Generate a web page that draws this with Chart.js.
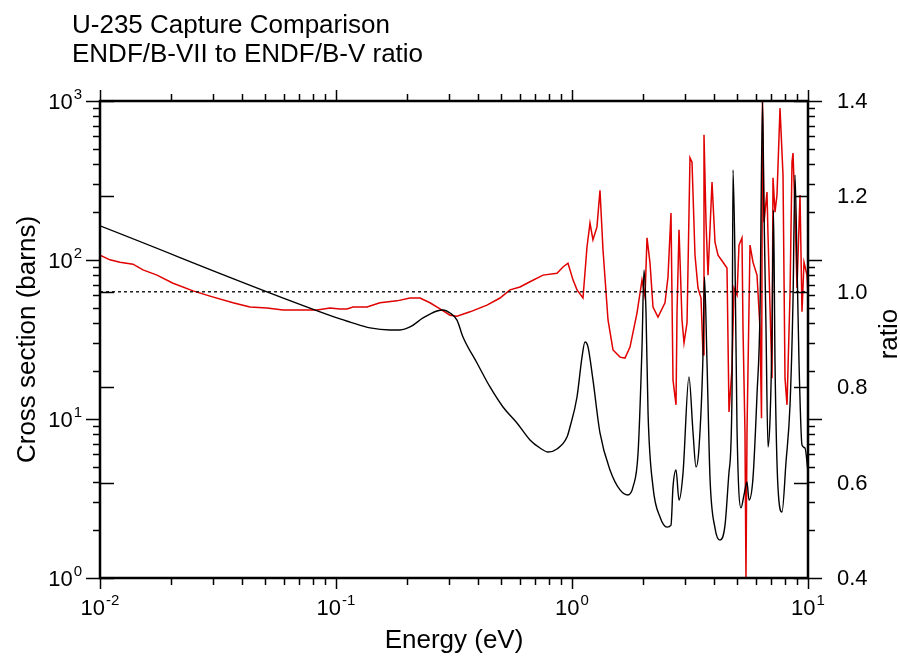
<!DOCTYPE html>
<html>
<head>
<meta charset="utf-8">
<script src="https://cdn.jsdelivr.net/npm/chart.js@4/dist/chart.umd.min.js"></script>
<style>
	html, body { margin: 0; background: #fff; }
	canvas { display: block; }
</style>
</head>
<body>
<canvas id="chart" width="900" height="658"></canvas>
<script>
// ENDF/B-VII capture cross section (barns) vs energy (eV)
const energyCs = [
	0.01, 0.104, 0.1147, 0.1394, 0.1694, 0.1867, 0.2059, 0.2337, 0.2679, 0.2841,
	0.3041, 0.3256, 0.3452, 0.3958, 0.4494, 0.5101, 0.5846, 0.6637, 0.7318, 0.7913,
	0.8638, 0.9524, 0.9807, 1.050, 1.1025, 1.135, 1.169, 1.227, 1.314, 1.449,
	1.598, 1.727, 1.814, 1.905, 1.980, 2.019, 2.059, 2.100, 2.204, 2.360,
	2.527, 2.627, 2.679, 2.759, 2.841, 2.954, 3.130, 3.256, 3.353, 3.452,
	3.590, 3.642, 3.733, 3.844, 4.036, 4.238, 4.450, 4.627, 4.764, 4.811,
	4.906, 5.003, 5.202, 5.356, 5.515, 5.623, 5.847, 6.080, 6.261, 6.415,
	6.510, 6.638, 6.769, 6.902, 7.038, 7.142, 7.248, 7.463, 7.760, 8.069,
	8.390, 8.640, 8.810, 8.983, 9.160, 9.432, 9.712, 10
];
const crossSection = [
	164, 42.6, 40.7, 37.4, 36.3, 36.3, 37.9, 43.2, 47.8, 48.5,
	46.4, 41.9, 32.8, 22.5, 15.9, 11.9, 9.44, 7.38, 6.57, 6.20,
	6.48, 7.70, 8.91, 13.75, 24.5, 30.5, 28.4, 17.6, 8.17, 4.78,
	3.58, 3.33, 3.74, 6.11, 28.4, 86.5, 46.4, 10.9, 3.74, 2.42,
	2.09, 2.15, 3.74, 4.78, 3.09, 4.57, 18.4, 8.28, 4.99, 6.57,
	25.3, 78.2, 22.8, 4.26, 2.06, 1.73, 2.15, 4.64, 14.2, 368,
	97.1, 8.78, 2.76, 3.33, 4.02, 3.09, 4.26, 14.2, 47.1, 985,
	206, 37.4, 6.67, 9.86, 33.8, 206, 22.8, 3.68, 2.60, 5.36,
	12.2, 56.0, 342, 97.1, 22.8, 6.86, 6.57, 4.64
];

// ENDF/B-VII to ENDF/B-V ratio
const energyRatio = [
	0.01, 0.01102, 0.01215, 0.0138, 0.01521, 0.01744, 0.02039, 0.02478, 0.02924, 0.03661,
	0.04321, 0.05101, 0.05963, 0.07248, 0.08311, 0.09432, 0.104, 0.1113, 0.118, 0.1353,
	0.1536, 0.1813, 0.2059, 0.227, 0.2502, 0.2759, 0.3041, 0.3256, 0.3697, 0.4363,
	0.4953, 0.5462, 0.6021, 0.6637, 0.7536, 0.8638, 0.9159, 0.9617, 1.0098, 1.050,
	1.1132, 1.1575, 1.192, 1.227, 1.276, 1.314, 1.353, 1.421, 1.492, 1.598,
	1.677, 1.761, 1.886, 1.980, 2.039, 2.079, 2.141, 2.204, 2.314, 2.478,
	2.551, 2.627, 2.679, 2.759, 2.786, 2.841, 2.925, 2.983, 3.072, 3.162,
	3.225, 3.320, 3.419, 3.521, 3.590, 3.625, 3.697, 3.770, 3.920, 4.036,
	4.156, 4.364, 4.537, 4.627, 4.764, 4.858, 5.003, 5.101, 5.252, 5.303,
	5.407, 5.460, 5.515, 5.679, 5.847, 6.080, 6.261, 6.353, 6.415, 6.510,
	6.703, 6.769, 7.038, 7.107, 7.248, 7.390, 7.610, 7.836, 7.991, 8.148,
	8.390, 8.556, 8.640, 8.810, 8.983, 9.250, 9.432, 9.617, 9.903, 10
];
const ratio = [
	1.077, 1.067, 1.062, 1.058, 1.046, 1.035, 1.018, 1.002, 0.991, 0.977,
	0.968, 0.966, 0.962, 0.962, 0.962, 0.966, 0.964, 0.964, 0.968, 0.968,
	0.977, 0.981, 0.987, 0.987, 0.977, 0.964, 0.951, 0.949, 0.958, 0.972,
	0.987, 1.004, 1.010, 1.021, 1.035, 1.039, 1.052, 1.060, 1.025, 1.004,
	0.987, 1.094, 1.144, 1.109, 1.136, 1.213, 1.088, 0.941, 0.878, 0.863,
	0.861, 0.884, 0.956, 1.025, 0.989, 1.113, 1.060, 0.968, 0.947, 0.977,
	1.031, 1.165, 0.815, 0.763, 0.956, 1.130, 0.941, 0.893, 0.935, 1.281,
	1.272, 1.077, 1.008, 0.987, 0.868, 1.329, 1.146, 1.035, 1.230, 1.104,
	1.077, 1.062, 1.050, 0.748, 0.840, 1.008, 0.993, 1.098, 1.113, 0.924,
	0.706, 0.400, 0.706, 1.098, 1.062, 1.035, 0.924, 0.735, 1.398, 1.146,
	1.209, 1.119, 0.819, 1.239, 1.167, 1.203, 1.385, 1.245, 0.819, 0.763,
	0.993, 1.272, 1.291, 1.167, 1.008, 1.203, 0.958, 1.062, 1.035, 0.993
];

const unityEnergy = [0.01, 10];
const unityRatio = [1, 1];

const xDecades = [-2, -1, 0, 1];
const yDecades = [0, 1, 2, 3];
const ratioTicks = [0.4, 0.6, 0.8, 1.0, 1.2, 1.4];

const titleLines = ['U-235 Capture Comparison', 'ENDF/B-VII to ENDF/B-V ratio'];
const xTitle = 'Energy (eV)';
const yTitle = 'Cross section (barns)';
const ratioTitle = 'ratio';

const FONT = '"Liberation Sans", Arial, Helvetica, sans-serif';

const toPoints = (xs, ys) => xs.map((x, i) => ({ x, y: ys[i] }));

const powerLabel = (ctx, exp, x, y, align) => {
	ctx.font = `22px ${FONT}`;
	const wb = ctx.measureText('10').width;
	ctx.font = `15px ${FONT}`;
	const we = ctx.measureText(exp).width;
	const left = align === 'right' ? x - wb - we - 1 : x - (wb + we + 1) / 2;
	ctx.textAlign = 'left';
	ctx.textBaseline = 'alphabetic';
	ctx.font = `22px ${FONT}`;
	ctx.fillText('10', left, y + 8);
	ctx.font = `15px ${FONT}`;
	ctx.fillText(exp, left + wb + 1, y - 2);
};

const frame = {
	id: 'frame',
	afterDraw(chart) {
		const { ctx, chartArea: a, scales } = chart;
		const sx = scales.x, sy = scales.y, sr = scales.ratio;
		const line = (x1, y1, x2, y2) => {
			ctx.beginPath();
			ctx.moveTo(x1, y1);
			ctx.lineTo(x2, y2);
			ctx.stroke();
		};
		ctx.save();
		ctx.strokeStyle = '#000';
		ctx.fillStyle = '#000';
		ctx.lineWidth = 1.5;

		// log ticks, outside, top and bottom
		xDecades.forEach(d => {
			for (let m = 1; m <= 9; m++) {
				const v = m * Math.pow(10, d);
				if (v > sx.max * 1.0001) break;
				const px = Math.round(sx.getPixelForValue(v)) + 0.5;
				const len = m === 1 ? 11 : 7;
				line(px, a.bottom, px, a.bottom + len);
				line(px, a.top, px, a.top - len);
			}
		});
		// log ticks, outside, left and right
		yDecades.forEach(d => {
			for (let m = 1; m <= 9; m++) {
				const v = m * Math.pow(10, d);
				if (v > sy.max * 1.0001) break;
				const py = Math.round(sy.getPixelForValue(v)) + 0.5;
				const len = m === 1 ? 14 : 7;
				line(a.left - len, py, a.left, py);
				line(a.right, py, a.right + len, py);
			}
		});
		// ratio ticks, inside
		ratioTicks.forEach(v => {
			const py = Math.round(sr.getPixelForValue(v)) + 0.5;
			line(a.left, py, a.left + 14, py);
			line(a.right - 14, py, a.right, py);
		});

		ctx.lineWidth = 2.5;
		ctx.strokeRect(a.left, a.top, a.right - a.left, a.bottom - a.top);

		// tick labels
		xDecades.forEach(d => powerLabel(ctx, String(d), sx.getPixelForValue(Math.pow(10, d)), 607, 'center'));
		yDecades.forEach(d => powerLabel(ctx, String(d), 82, sy.getPixelForValue(Math.pow(10, d)), 'right'));
		ctx.font = `22px ${FONT}`;
		ctx.textAlign = 'left';
		ctx.textBaseline = 'middle';
		ratioTicks.forEach(v => ctx.fillText(v.toFixed(1), 837, sr.getPixelForValue(v) + 1));

		// titles
		ctx.font = `26px ${FONT}`;
		ctx.textBaseline = 'alphabetic';
		ctx.fillText(titleLines[0], 72, 33);
		ctx.fillText(titleLines[1], 72, 62);
		ctx.textAlign = 'center';
		ctx.fillText(xTitle, (a.left + a.right) / 2, 648);

		ctx.textBaseline = 'middle';
		ctx.save();
		ctx.translate(28, (a.top + a.bottom) / 2);
		ctx.rotate(-Math.PI / 2);
		ctx.fillText(yTitle, 0, 0);
		ctx.restore();
		ctx.save();
		ctx.translate(890, 334);
		ctx.rotate(-Math.PI / 2);
		ctx.fillText(ratioTitle, 0, 0);
		ctx.restore();

		ctx.restore();
	}
};

new Chart(document.getElementById('chart'), {
	type: 'line',
	data: {
		datasets: [
			{
				label: 'Cross section',
				data: toPoints(energyCs, crossSection),
				yAxisID: 'y',
				borderColor: '#000',
				borderWidth: 1.4,
				cubicInterpolationMode: 'monotone',
			},
			{
				label: 'Ratio = 1',
				data: toPoints(unityEnergy, unityRatio),
				yAxisID: 'ratio',
				borderColor: '#000',
				borderWidth: 1.3,
				borderDash: [3, 3],
			},
			{
				label: 'Ratio',
				data: toPoints(energyRatio, ratio),
				yAxisID: 'ratio',
				borderColor: '#e00000',
				borderWidth: 1.5,
			},
		]
	},
	options: {
		responsive: false,
		animation: false,
		events: [],
		layout: { padding: { left: 100, right: 92, top: 101, bottom: 80 } },
		elements: { point: { radius: 0 }, line: { tension: 0 } },
		plugins: { legend: { display: false }, tooltip: { enabled: false } },
		scales: {
			x: { type: 'logarithmic', min: 0.01, max: 10, display: false },
			y: { type: 'logarithmic', min: 1, max: 1000, display: false },
			ratio: { type: 'linear', position: 'right', min: 0.4, max: 1.4, display: false },
		}
	},
	plugins: [frame]
});
</script>
</body>
</html>
